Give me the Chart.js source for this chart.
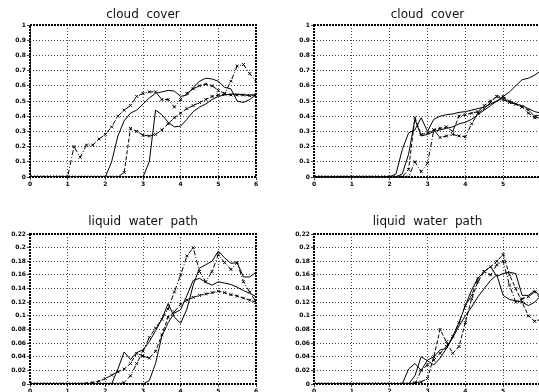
<!DOCTYPE html>
<html>
<head>
<meta charset="utf-8">
<script src="https://cdn.jsdelivr.net/npm/chart.js@4.4.1/dist/chart.umd.min.js"></script>
<style>
html,body{margin:0;padding:0;overflow:hidden;background:#fff}
body{width:539px;height:392px;position:relative}
.p{position:absolute}
</style>
</head>
<body>
<div class="p" style="left:0;top:0"><canvas id="tl" width="270" height="196"></canvas></div>
<div class="p" style="left:269px;top:0"><canvas id="tr" width="290" height="196"></canvas></div>
<div class="p" style="left:0;top:196px"><canvas id="bl" width="270" height="196"></canvas></div>
<div class="p" style="left:269px;top:196px"><canvas id="br" width="290" height="196"></canvas></div>
<script>
// time axis (hours), one point every 10 minutes
var hours = [0,0.167,0.333,0.5,0.667,0.833,1,1.167,1.333,1.5,1.667,1.833,2,2.167,2.333,2.5,2.667,2.833,3,3.167,3.333,3.5,3.667,3.833,4,4.167,4.333,4.5,4.667,4.833,5,5.167,5.333,5.5,5.667,5.833,6];

// cloud cover, left panel
var ccL_solidA = [0,0,0,0,0,0,0,0,0,0,0,0,0,0.10,0.27,0.37,0.42,0.44,0.48,0.52,0.55,0.56,0.57,0.565,0.53,0.54,0.59,0.63,0.65,0.645,0.63,0.59,0.58,0.50,0.49,0.51,0.54];
var ccL_solidB = [0,0,0,0,0,0,0,0,0,0,0,0,0,0,0,0,0,0,0,0.10,0.44,0.41,0.36,0.33,0.335,0.38,0.43,0.46,0.48,0.51,0.53,0.54,0.545,0.545,0.54,0.54,0.54];
var ccL_dash = [0,0,0,0,0,0,0,0,0,0,0,0,0,0,0,0.03,0.32,0.30,0.275,0.27,0.28,0.31,0.35,0.39,0.42,0.45,0.47,0.49,0.51,0.53,0.54,0.545,0.54,0.54,0.54,0.535,0.54];
var ccL_dashdot = [0,0,0,0,0,0,0,0.20,0.13,0.21,0.21,0.25,0.28,0.33,0.40,0.44,0.47,0.53,0.55,0.56,0.56,0.51,0.51,0.46,0.51,0.55,0.58,0.60,0.61,0.60,0.57,0.55,0.63,0.73,0.74,0.68,0.63];

// cloud cover, right panel
var ccR_solidA = [0,0,0,0,0,0,0,0,0,0,0,0,0,0.02,0.18,0.29,0.31,0.39,0.30,0.38,0.40,0.41,0.415,0.425,0.43,0.44,0.45,0.46,0.48,0.50,0.53,0.56,0.60,0.64,0.65,0.67,0.70];
var ccR_solidB = [0,0,0,0,0,0,0,0,0,0,0,0,0,0,0.02,0.15,0.38,0.27,0.28,0.30,0.31,0.32,0.33,0.35,0.36,0.38,0.41,0.44,0.47,0.50,0.52,0.49,0.48,0.47,0.45,0.43,0.42];
var ccR_dash = [0,0,0,0,0,0,0,0,0,0,0,0,0,0,0,0.05,0.39,0.28,0.29,0.31,0.32,0.33,0.30,0.40,0.41,0.42,0.43,0.47,0.50,0.53,0.51,0.49,0.48,0.46,0.44,0.40,0.41];
var ccR_dashdot = [0,0,0,0,0,0,0,0,0,0,0,0,0,0,0,0,0.10,0.035,0.09,0.31,0.26,0.27,0.28,0.27,0.265,0.35,0.42,0.45,0.49,0.53,0.53,0.50,0.48,0.46,0.42,0.39,0.39];

// liquid water path, left panel
var lwL_solidA = [0,0,0,0,0,0,0,0,0,0,0,0,0,0,0.022,0.047,0.036,0.046,0.05,0.062,0.078,0.095,0.118,0.098,0.089,0.11,0.145,0.17,0.175,0.18,0.195,0.185,0.177,0.178,0.157,0.157,0.164];
var lwL_solidB = [0,0,0,0,0,0,0,0,0,0,0,0,0,0,0,0,0,0,0,0.005,0.03,0.07,0.09,0.104,0.109,0.13,0.152,0.155,0.149,0.145,0.15,0.148,0.146,0.142,0.137,0.133,0.128];
var lwL_dash = [0,0,0,0,0,0,0,0,0,0.001,0.002,0.004,0.008,0.013,0.018,0.022,0.03,0.045,0.041,0.038,0.048,0.072,0.098,0.106,0.117,0.123,0.127,0.130,0.132,0.134,0.136,0.134,0.131,0.129,0.126,0.123,0.12];
var lwL_dashdot = [0,0,0,0,0,0,0,0,0,0,0,0,0,0,0,0.002,0.012,0.03,0.048,0.068,0.082,0.095,0.11,0.135,0.16,0.188,0.200,0.165,0.15,0.165,0.19,0.178,0.168,0.178,0.15,0.135,0.12];

// liquid water path, right panel
var lwR_solidA = [0,0,0,0,0,0,0,0,0,0,0,0,0,0,0,0.022,0.03,0.02,0.035,0.04,0.05,0.052,0.07,0.09,0.115,0.138,0.155,0.165,0.172,0.158,0.162,0.164,0.162,0.13,0.13,0.137,0.128];
var lwR_solidB = [0,0,0,0,0,0,0,0,0,0,0,0,0,0,0,0,0.012,0.04,0.034,0.028,0.038,0.052,0.068,0.085,0.10,0.113,0.128,0.14,0.152,0.16,0.13,0.124,0.122,0.12,0.115,0.12,0.13];
var lwR_dash = [0,0,0,0,0,0,0,0,0,0,0,0,0,0,0,0,0.002,0.003,0.008,0.04,0.08,0.062,0.045,0.055,0.09,0.125,0.15,0.165,0.172,0.18,0.19,0.16,0.14,0.12,0.10,0.092,0.095];
var lwR_dashdot = [0,0,0,0,0,0,0,0,0,0,0,0,0,0,0,0,0,0.02,0.028,0.035,0.045,0.055,0.07,0.09,0.115,0.13,0.155,0.165,0.16,0.175,0.18,0.145,0.12,0.125,0.128,0.135,0.125];

var frame = {
    id: 'frame',
    afterDatasetsDraw: function(chart, args, opts) {
        var a = chart.chartArea, ctx = chart.ctx;
        ctx.save();
        ctx.strokeStyle = '#000';
        ctx.lineWidth = 2;
        ctx.setLineDash([2, 1]);
        ctx.strokeRect(a.left, a.top, a.right - a.left, a.bottom - a.top);
        ctx.restore();
    },
    afterDraw: function(chart, args, opts) {
        var a = chart.chartArea, ctx = chart.ctx;
        ctx.save();
        ctx.font = '12px "DejaVu Sans"';
        ctx.fillStyle = '#111';
        ctx.textAlign = 'center';
        ctx.textBaseline = 'middle';
        ctx.fillText(opts.text, (a.left + a.right) / 2, opts.y);
        ctx.restore();
    }
};

function pts(ys) {
    var out = [];
    for (var i = 0; i < hours.length; i++) out.push({x: hours[i], y: ys[i]});
    return out;
}

function set(ys, kind) {
    var d = {
        data: pts(ys),
        borderColor: '#000',
        borderWidth: 1,
        fill: false,
        pointRadius: 0,
        pointStyle: 'crossRot',
        pointBorderColor: '#000',
        pointBorderWidth: 1
    };
    if (kind == 'dash') { d.borderDash = [4, 2]; d.pointRadius = 2; }
    if (kind == 'dashdot') { d.borderDash = [5, 2, 1, 2]; d.pointRadius = 2; }
    return d;
}

function label(v) {
    return String(Math.round(v * 100) / 100);
}

function panel(id, title, yMax, yStep, yW, xH, padTop, padRight, titleY, a, b, c, d) {
    var tickFont = {family: 'DejaVu Sans', size: 6, weight: 'bold'};
    var grid = {color: '#444', lineWidth: 1, tickLength: 3};
    var border = {display: false, dash: [1, 2]};
    new Chart(document.getElementById(id), {
        type: 'line',
        data: {
            datasets: [set(a, 'solid'), set(b, 'solid'), set(c, 'dash'), set(d, 'dashdot')]
        },
        options: {
            responsive: false,
            animation: false,
            layout: {padding: {top: padTop, right: padRight, left: 0, bottom: 0}},
            plugins: {
                legend: {display: false},
                tooltip: {enabled: false},
                frame: {text: title, y: titleY}
            },
            scales: {
                x: {
                    type: 'linear', min: 0, max: 6,
                    ticks: {stepSize: 1, font: tickFont, color: '#000', padding: 1, maxRotation: 0, callback: label},
                    grid: grid, border: border,
                    afterFit: function(s) { s.height = xH; }
                },
                y: {
                    min: 0, max: yMax,
                    ticks: {stepSize: yStep, font: tickFont, color: '#000', padding: 1, callback: label},
                    grid: grid, border: border,
                    afterFit: function(s) { s.width = yW; }
                }
            }
        },
        plugins: [frame]
    });
}

panel('tl', 'cloud  cover', 1, 0.1, 30, 19, 25, 14, 15, ccL_solidA, ccL_solidB, ccL_dash, ccL_dashdot);
panel('tr', 'cloud  cover', 1, 0.1, 45, 19, 25, 18, 15, ccR_solidA, ccR_solidB, ccR_dash, ccR_dashdot);
panel('bl', 'liquid  water  path', 0.22, 0.02, 30, 8, 38, 14, 26, lwL_solidA, lwL_solidB, lwL_dash, lwL_dashdot);
panel('br', 'liquid  water  path', 0.22, 0.02, 45, 8, 38, 18, 26, lwR_solidA, lwR_solidB, lwR_dash, lwR_dashdot);
</script>
</body>
</html>
